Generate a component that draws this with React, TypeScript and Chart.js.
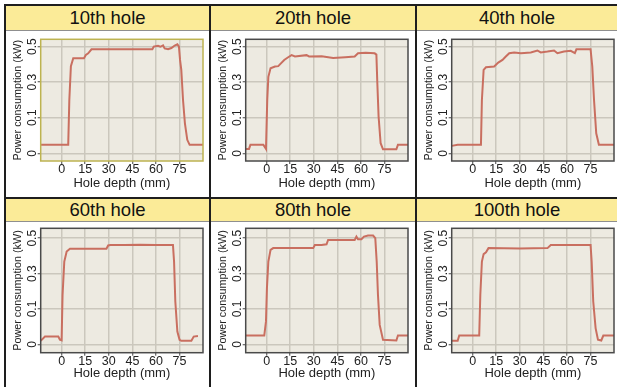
import React, { useEffect, useRef } from "react";
import { Chart, registerables } from "chart.js";

Chart.register(...registerables);

// ---------- data ----------
const titles = ["10th hole", "20th hole", "40th hole", "60th hole", "80th hole", "100th hole"];
const xTickValues = [0, 15, 30, 45, 60, 75];
const yTickValues = [-0.1, 0.1, 0.3, 0.5];
const yTickLabels = ["0", "0.1", "0.3", "0.5"];
const xTitle = "Hole depth (mm)";
const yTitle = "Power consumption (kW)";

const depth10 = [-13.3, 4.2, 4.9, 5.9, 7.4, 14.2, 15.4, 16.9, 19, 57.7, 58.6, 61.3, 62.8, 64.5, 65.5, 67.7, 69.8, 71.9, 73.6, 74.6, 75.3, 76.1, 77.2, 78.4, 79.9, 81.4, 89.9];
const power10 = [-0.052, -0.052, 0.2, 0.39, 0.435, 0.435, 0.453, 0.462, 0.485, 0.485, 0.5, 0.504, 0.499, 0.507, 0.49, 0.485, 0.492, 0.506, 0.513, 0.5, 0.425, 0.369, 0.2, 0.069, -0.024, -0.052, -0.052];

const depth20 = [-13.3, -11.2, -10.3, -2.1, -0.4, 0.4, 1.1, 2.5, 5.3, 7.4, 9.1, 11.2, 13.7, 15.9, 18, 25.4, 27, 35, 42.3, 50, 56, 58.1, 63, 68.7, 69.8, 70.4, 71.2, 72.5, 74, 82.5, 83.5, 89.9];
const power20 = [-0.075, -0.075, -0.052, -0.052, -0.075, 0.2, 0.33, 0.378, 0.388, 0.39, 0.406, 0.425, 0.44, 0.452, 0.445, 0.452, 0.445, 0.446, 0.436, 0.44, 0.444, 0.463, 0.465, 0.462, 0.455, 0.294, 0.107, -0.043, -0.077, -0.077, -0.052, -0.052];

const depth40 = [-13.3, -9.5, 5.3, 5.9, 7, 8.5, 13.7, 16.3, 19, 21.1, 23.3, 26.4, 30.7, 37, 41.2, 43.3, 47.6, 51.8, 53.9, 58.1, 62.4, 65, 66, 75, 76.1, 77.2, 78.6, 80.3, 89.9];
const power40 = [-0.058, -0.052, -0.052, 0.2, 0.369, 0.384, 0.388, 0.41, 0.425, 0.444, 0.463, 0.467, 0.463, 0.467, 0.478, 0.467, 0.472, 0.478, 0.463, 0.472, 0.476, 0.463, 0.485, 0.485, 0.388, 0.2, 0.013, -0.052, -0.052];

const depth60 = [-13.3, -10.6, -2.1, -1.1, 0, 0.6, 1.7, 3.2, 5.3, 28.5, 29.6, 31, 40, 50, 60, 70.8, 71.5, 72.3, 73.6, 75, 76.1, 82.5, 84, 86.7];
const power60 = [-0.08, -0.056, -0.056, -0.074, -0.077, 0.18, 0.368, 0.425, 0.44, 0.44, 0.459, 0.462, 0.461, 0.463, 0.461, 0.462, 0.368, 0.142, -0.027, -0.074, -0.08, -0.08, -0.056, -0.053];

const depth80 = [-13.3, -1.5, -0.4, 0.2, 1.1, 2.5, 4.2, 29.6, 30.7, 34.9, 38.1, 39.1, 56, 57.1, 58.1, 60.3, 61.9, 64.5, 67.7, 69.1, 70, 70.8, 71.9, 74, 82.5, 83.5, 89.9];
const power80 = [-0.05, -0.05, 0.03, 0.218, 0.368, 0.434, 0.444, 0.444, 0.462, 0.462, 0.466, 0.49, 0.49, 0.509, 0.494, 0.494, 0.509, 0.515, 0.515, 0.5, 0.368, 0.18, 0.01, -0.074, -0.078, -0.05, -0.05];

const depth100 = [-13.3, -9.5, -8.5, 4.2, 4.9, 5.9, 7, 8.5, 10.1, 30, 47.6, 49.7, 75, 75.7, 76.7, 78.2, 79.7, 81.8, 83.1, 89.9];
const power100 = [-0.08, -0.08, -0.05, -0.05, 0.18, 0.368, 0.41, 0.42, 0.444, 0.442, 0.444, 0.462, 0.462, 0.368, 0.142, -0.008, -0.074, -0.078, -0.05, -0.05];

const depths = [depth10, depth20, depth40, depth60, depth80, depth100];
const powers = [power10, power20, power40, power60, power80, power100];

// ---------- styling ----------
const FONT = "'Liberation Sans', Arial, Helvetica, sans-serif";
const TEXT = "#222";
const LINE = "#c96f60";
const PLOT_BG = "#edeae1";
const GRID = "#cbc7bd";
const BORDER = "#1e1e1e";
const HEADER_BG = "#fbeb98";

const colLefts = [4, 209, 415];
const rows = [
  { headTop: 6, headH: 24, canvasTop: 31, canvasH: 166, padTop: 8.3, xAxisH: 36, titleBottom: 6.2, yMin: -0.143, yMax: 0.541 },
  { headTop: 199, headH: 22, canvasTop: 222, canvasH: 165, padTop: 6.3, xAxisH: 34.3, titleBottom: 5.9, yMin: -0.147, yMax: 0.556 },
];

function Panel({ idx }: { idx: number }) {
  const ref = useRef<HTMLCanvasElement | null>(null);
  const row = rows[Math.floor(idx / 3)];
  const col = idx % 3;
  useEffect(() => {
    if (!ref.current) return;
    const frameColor = idx === 0 ? "#bdb350" : "#4a4a4a";
    const decor = {
      id: "decor",
      beforeDraw(chart: any) {
        const { ctx, chartArea: a } = chart;
        ctx.save();
        ctx.fillStyle = PLOT_BG;
        ctx.fillRect(a.left, a.top, a.right - a.left, a.bottom - a.top);
        ctx.restore();
      },
      afterDraw(chart: any) {
        const { ctx, chartArea: a } = chart;
        const ys = chart.scales.y;
        ctx.save();
        ctx.strokeStyle = frameColor;
        ctx.lineWidth = 1.5;
        ctx.strokeRect(a.left, a.top, a.right - a.left, a.bottom - a.top);
        ctx.fillStyle = TEXT;
        ctx.font = `12px ${FONT}`;
        ctx.textAlign = "center";
        ctx.textBaseline = "middle";
        yTickValues.forEach((v, i) => {
          const py = ys.getPixelForValue(v);
          ctx.save();
          ctx.translate(a.left - 8, py);
          ctx.rotate(-Math.PI / 2);
          ctx.fillText(yTickLabels[i], 0, 0);
          ctx.restore();
        });
        ctx.restore();
      },
    };
    const chart = new Chart(ref.current, {
      type: "line",
      data: {
        datasets: [
          {
            data: depths[idx].map((d, i) => ({ x: d, y: powers[idx][i] })),
            borderColor: LINE,
            borderWidth: 2,
            pointRadius: 0,
            tension: 0,
            fill: false,
          },
        ],
      },
      options: {
        animation: false,
        responsive: false,
        maintainAspectRatio: false,
        events: [],
        layout: { padding: { top: row.padTop, right: 7, left: 0, bottom: 0 } },
        plugins: { legend: { display: false }, tooltip: { enabled: false } },
        scales: {
          x: {
            type: "linear",
            min: -13.3,
            max: 89.9,
            afterBuildTicks: (s: any) => {
              s.ticks = xTickValues.map((v) => ({ value: v }));
            },
            afterFit: (s: any) => {
              s.height = row.xAxisH;
            },
            grid: { color: GRID, lineWidth: 1.5, drawTicks: true, tickLength: 3, tickColor: "#444", tickWidth: 1 },
            border: { display: false },
            ticks: { font: { family: FONT, size: 12.5 }, color: TEXT, padding: -2, maxRotation: 0, autoSkip: false },
            title: { display: true, text: xTitle, font: { family: FONT, size: 13 }, color: TEXT, padding: { top: 0, bottom: row.titleBottom } },
          },
          y: {
            type: "linear",
            min: row.yMin,
            max: row.yMax,
            afterBuildTicks: (s: any) => {
              s.ticks = yTickValues.map((v) => ({ value: v }));
            },
            afterFit: (s: any) => {
              s.width = 34.7;
            },
            grid: { color: GRID, lineWidth: 1.5, drawTicks: true, tickLength: 3, tickColor: "#444", tickWidth: 1 },
            border: { display: false },
            ticks: { display: false },
            title: { display: true, text: yTitle, font: { family: FONT, size: 10.8 }, color: TEXT, padding: { top: 5.8, bottom: 0 } },
          },
        },
      },
      plugins: [decor],
    } as any);
    return () => chart.destroy();
  }, [idx]);
  return (
    <canvas
      ref={ref}
      width={204}
      height={row.canvasH}
      style={{ position: "absolute", left: colLefts[col] + 2, top: row.canvasTop, width: 204, height: row.canvasH }}
    />
  );
}

export default function App() {
  const lines: React.ReactNode[] = [];
  lines.push(<div key="t" style={{ position: "absolute", left: 4, top: 4, width: 613, height: 2, background: BORDER }} />);
  lines.push(<div key="r" style={{ position: "absolute", left: 4, top: 197, width: 613, height: 2, background: BORDER }} />);
  colLefts.forEach((x, i) =>
    lines.push(<div key={"c" + i} style={{ position: "absolute", left: x, top: 4, width: 2, height: 383, background: BORDER }} />)
  );
  const heads: React.ReactNode[] = [];
  titles.forEach((t, i) => {
    const row = rows[Math.floor(i / 3)];
    const col = i % 3;
    const left = colLefts[col] + 2;
    const width = col < 2 ? colLefts[col + 1] - left : 617 - left;
    heads.push(
      <div
        key={"h" + i}
        style={{
          position: "absolute",
          left,
          top: row.headTop,
          width,
          height: row.headH,
          background: HEADER_BG,
          borderBottom: "1px solid #8f8f8f",
          display: "flex",
          alignItems: "center",
          justifyContent: "center",
          fontFamily: FONT,
          fontSize: 18.5,
          color: "#111",
          lineHeight: 1,
        }}
      >
        {t}
      </div>
    );
  });
  return (
    <div style={{ position: "absolute", left: 0, top: 0, width: 617, height: 387, background: "#fff", overflow: "hidden" }}>
      {titles.map((_, i) => (
        <Panel key={i} idx={i} />
      ))}
      {heads}
      {lines}
    </div>
  );
}
